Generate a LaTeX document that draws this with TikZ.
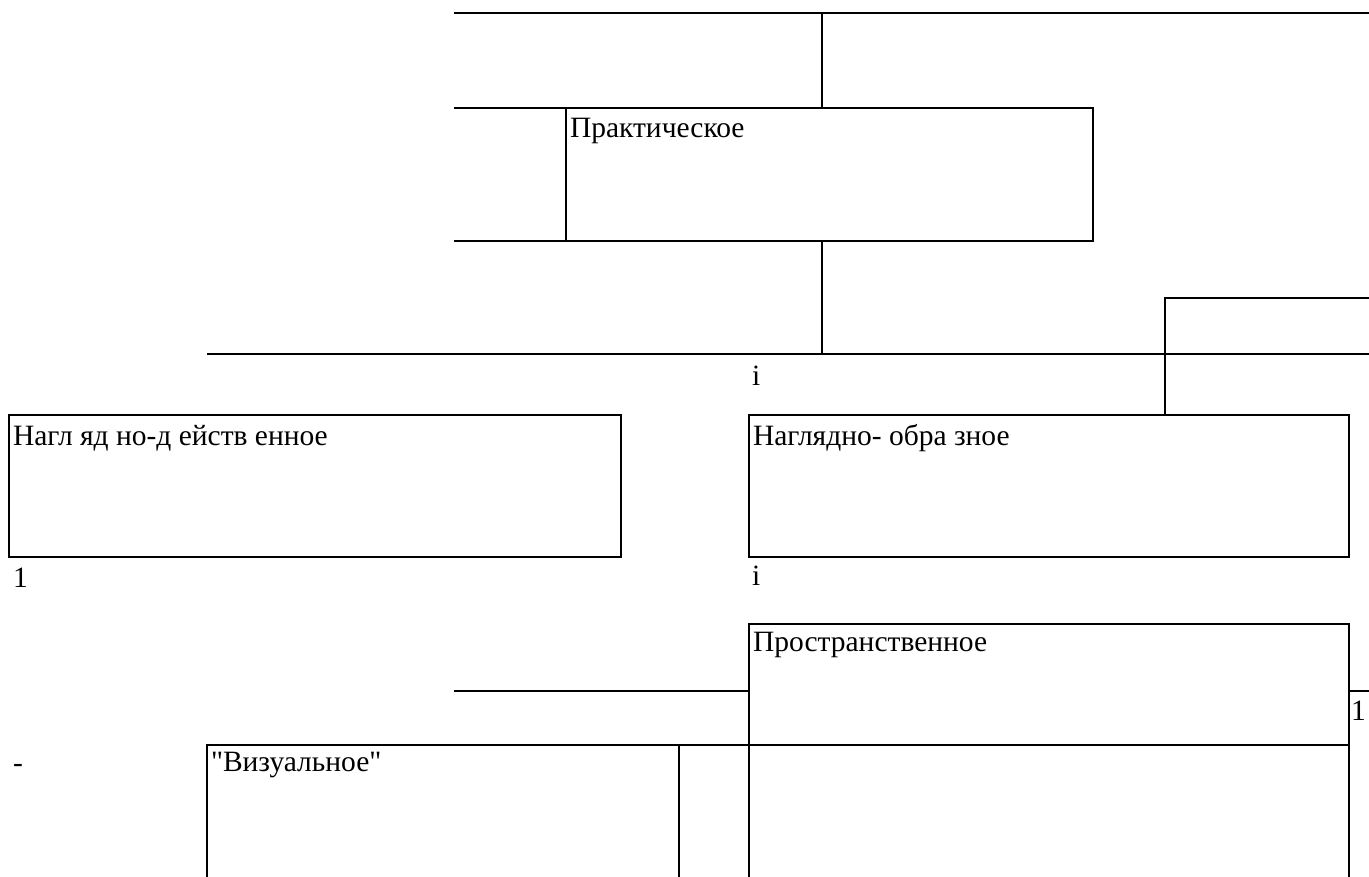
\documentclass[tikz,border=0pt]{standalone}
\usepackage{fontspec}
\setmainfont{Liberation Serif}
% straight double quote, drawn as a glyph so no text mapping curls it
\newcommand\straightdq{\XeTeXglyph\XeTeXcharglyph"22\relax}
\begin{document}
\begin{tikzpicture}[x=1pt,y=-1pt,
  every node/.style={inner sep=0pt,outer sep=0pt},
  boxnode/.style={draw,line width=2.4pt,anchor=north west,rectangle},
  wire/.style={line width=2.2pt},
  caption/.style={anchor=base west,font=\fontsize{29.5}{35}\selectfont}]
\useasboundingbox (0,0) rectangle (1369,877);
\clip (0,0) rectangle (1369,877);

% boxes
\node[boxnode,minimum width=527pt,minimum height=133pt] (prakt) at (566,108) {};
\node[boxnode,minimum width=612pt,minimum height=142pt] (nagld) at (9,415) {};
\node[boxnode,minimum width=600pt,minimum height=142pt] (naglo) at (749,415) {};
\node[boxnode,minimum width=600pt,minimum height=121pt] (prostr) at (749,624) {};
\node[boxnode,minimum width=472pt,minimum height=150pt] (vizual) at (207,745) {};
\node[boxnode,minimum width=600pt,minimum height=150pt] (lower) at (749,745) {};
\node[boxnode,minimum width=210pt,minimum height=56pt] (corner) at (1165,298) {};

% box texts
\node[caption] (tprakt) at (570,138) {Практическое};
\node[caption] (tnagld) at (13,445) {Нагл яд но-д ейств енное};
\node[caption] (tnaglo) at (753,445) {Наглядно- обра зное};
\node[caption] (tprostr) at (753,651) {Пространственное};
\node[caption] (tvizual) at (211,771) {\straightdq Визуальное\straightdq};

% stray marks
\node[caption] (m1) at (752,385) {i};
\node[caption] (m2) at (13,587) {1};
\node[caption] (m3) at (752,585) {i};
\node[caption] (m4) at (1351,720) {1};
\node[caption] (m5) at (13,772) {-};

% connector lines
\coordinate (topL) at (454,13);
\coordinate (topR) at (1369,13);
\coordinate (topJ) at (822,13);
\coordinate (midL) at (207,354);
\coordinate (midR) at (1369,354);
\coordinate (midJ) at (822,354);
\coordinate (pl1) at (454,108);
\coordinate (pl2) at (454,241);
\coordinate (prl) at (454,691);
\coordinate (prr) at (1369,691);

\draw[wire] (topL) -- (topR);
\draw[wire] (topJ) -- (topJ |- prakt.north);
\draw[wire] (pl1) -- (pl1 -| prakt.west);
\draw[wire] (pl2) -- (pl2 -| prakt.west);
\draw[wire] (midJ |- prakt.south) -- (midJ);
\draw[wire] (midL) -- (midR);
\draw[wire] (corner.north west) -- (corner.south west |- naglo.north);
\draw[wire] (prl) -- (prl -| prostr.west);
\draw[wire] (prostr.east |- prr) -- (prr);
\draw[wire] (vizual.north east) -- (lower.north west);
\end{tikzpicture}
\end{document}
